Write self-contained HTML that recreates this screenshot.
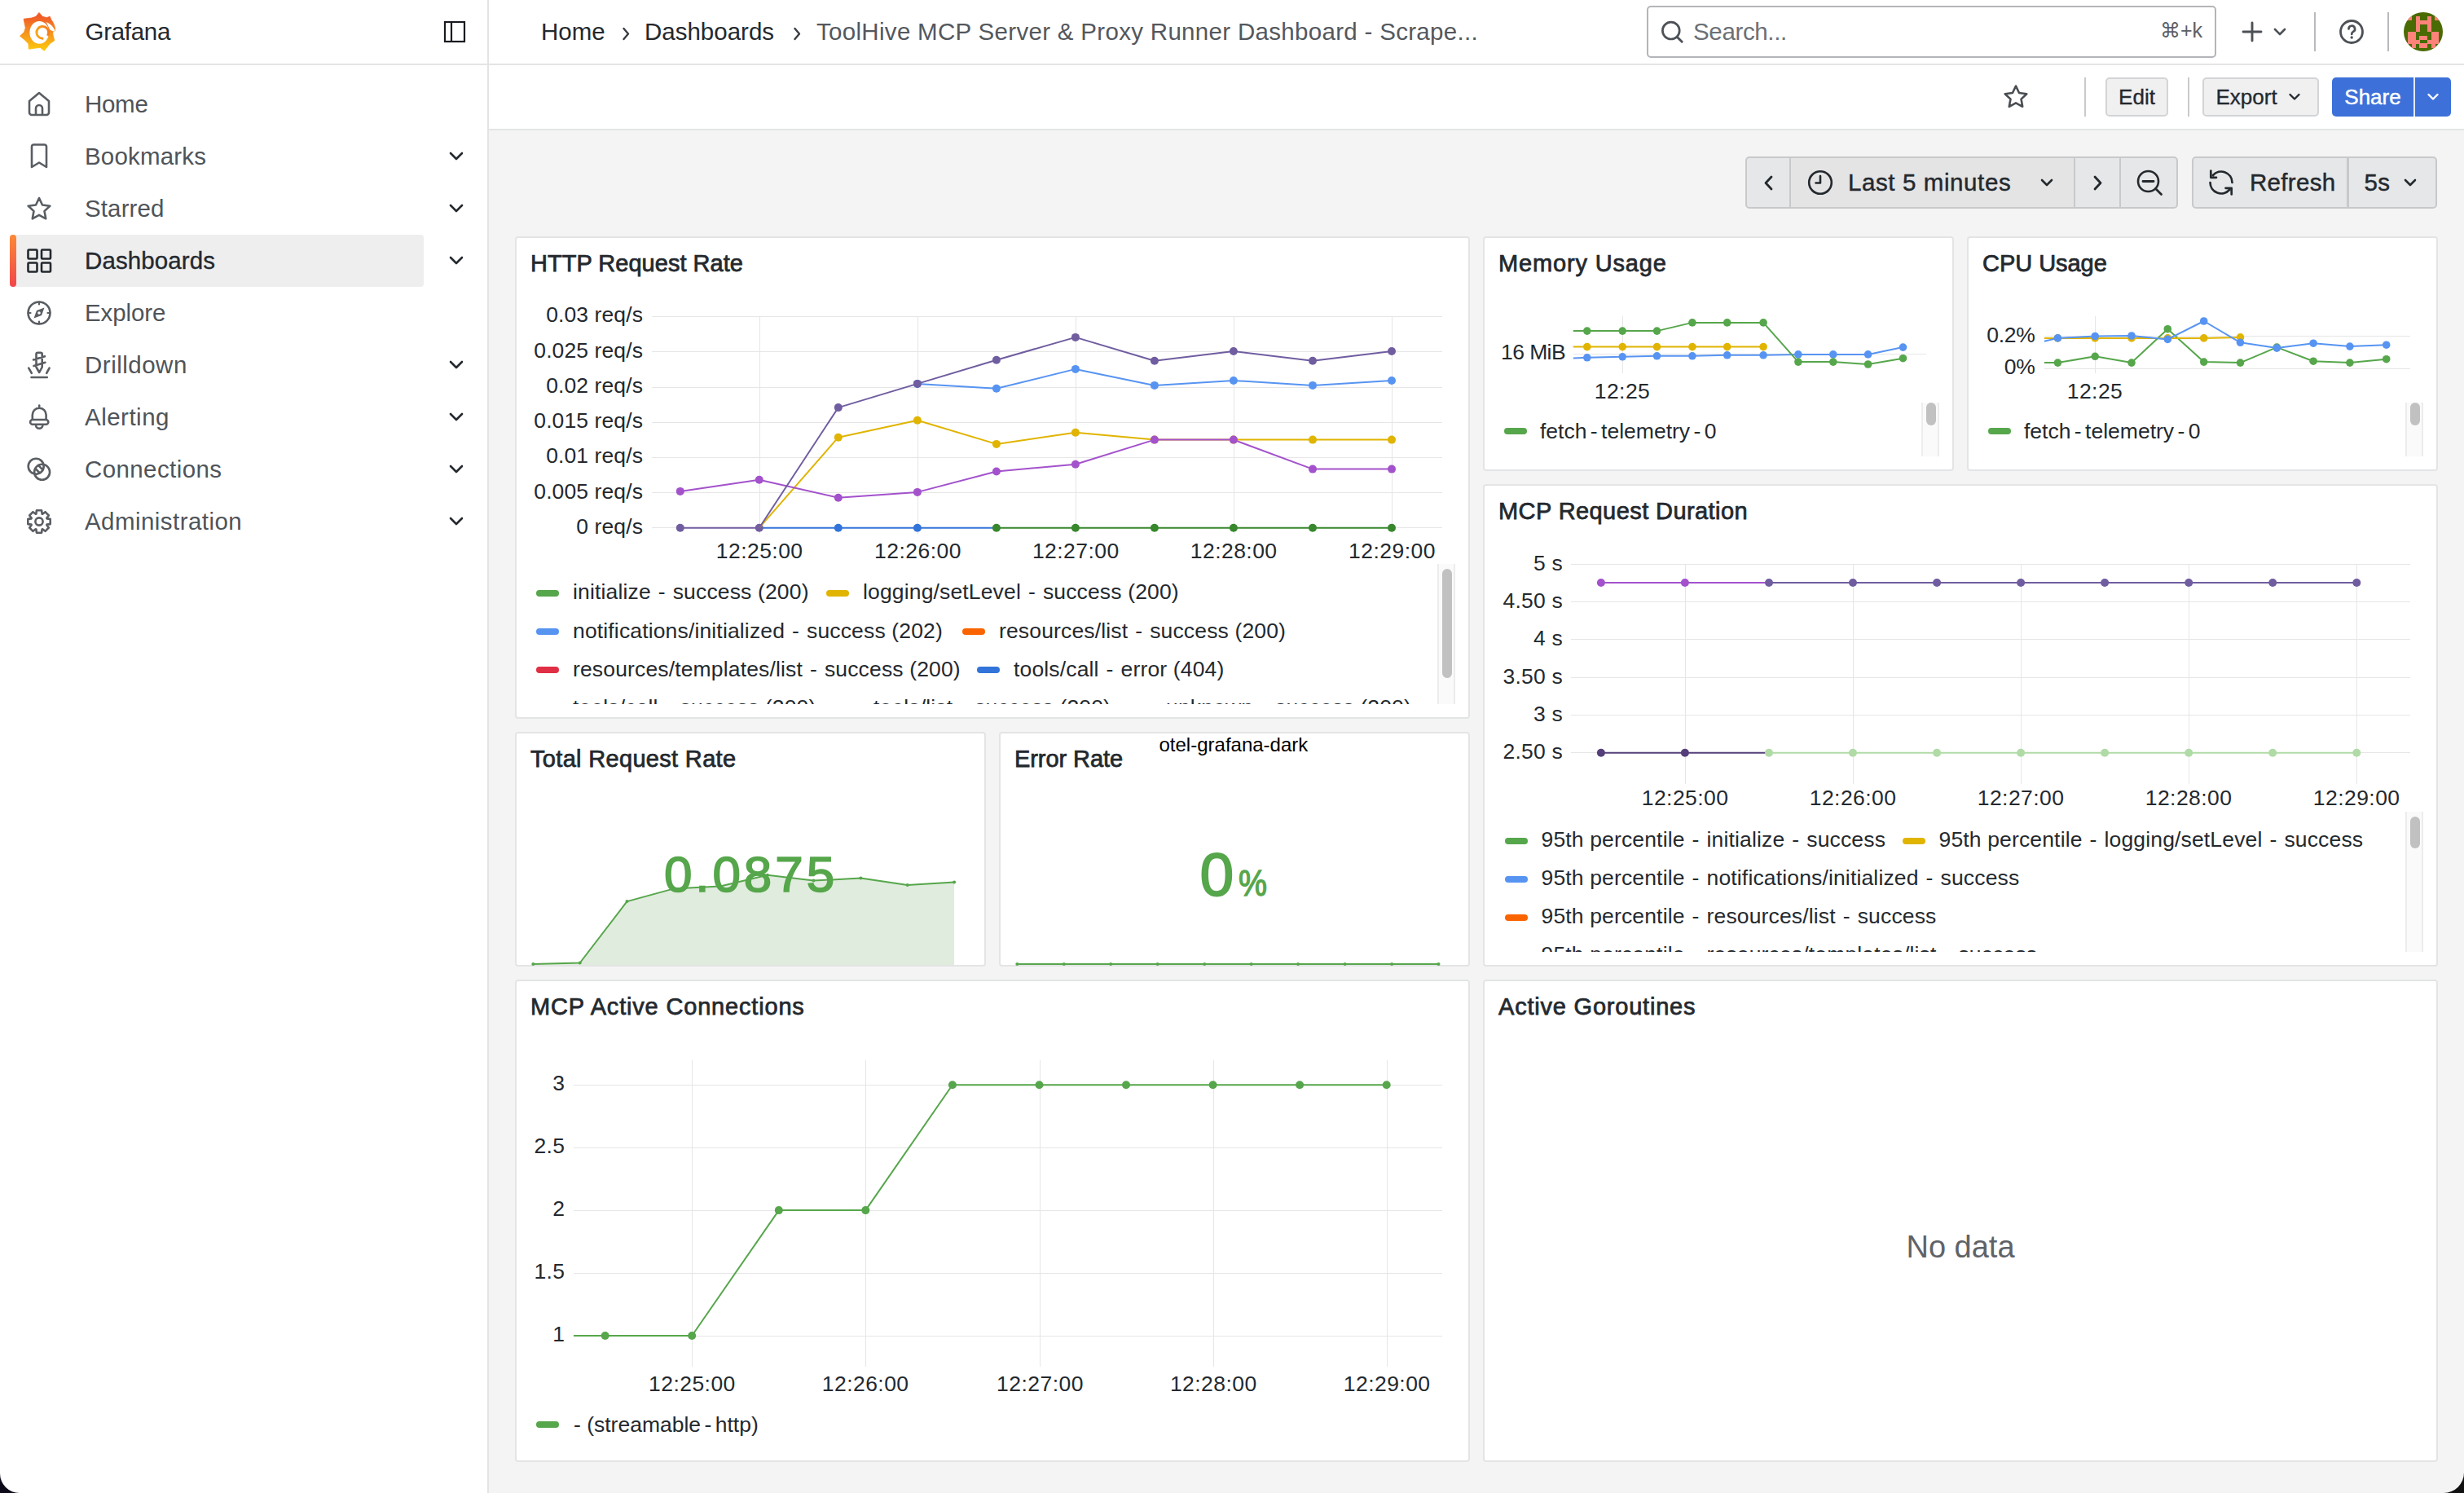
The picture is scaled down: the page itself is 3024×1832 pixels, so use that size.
<!DOCTYPE html>
<html><head><meta charset="utf-8"><title>ToolHive MCP Server &amp; Proxy Runner Dashboard - Grafana</title>
<style>
html,body{margin:0;padding:0;width:3024px;height:1832px;overflow:hidden;background:#fff;}
body{position:relative;font-family:"Liberation Sans", sans-serif;color:#24292e;}
.t{position:absolute;white-space:nowrap;line-height:1;}
</style></head><body>
<div class="" style="position:absolute;left:0px;top:0px;width:3024px;height:78px;background:#fff"></div><div class="" style="position:absolute;left:0px;top:78px;width:3024px;height:2px;background:#e3e4e5"></div><div class="" style="position:absolute;left:0px;top:80px;width:598px;height:1752px;background:#fff"></div><div class="" style="position:absolute;left:598px;top:0px;width:2px;height:1832px;background:#e3e4e5"></div><div class="" style="position:absolute;left:600px;top:80px;width:2424px;height:78px;background:#fff"></div><div class="" style="position:absolute;left:600px;top:158px;width:2424px;height:2px;background:#e3e4e5"></div><div class="" style="position:absolute;left:600px;top:160px;width:2424px;height:1672px;background:#f4f4f4"></div><div class="" style="position:absolute;left:2021px;top:7px;width:699px;height:64px;background:#fff;border:2px solid #b3b5b8;border-radius:5px;box-sizing:border-box"></div><div class="" style="position:absolute;left:2840px;top:15px;width:2px;height:48px;background:#b8babd"></div><div class="" style="position:absolute;left:2930px;top:15px;width:2px;height:48px;background:#b8babd"></div><div class="" style="position:absolute;left:12px;top:288px;width:508px;height:64px;background:#eeeeef;border-radius:4px"></div><div class="" style="position:absolute;left:12px;top:288px;width:8px;height:64px;background:linear-gradient(#fc8936,#f1464a);border-radius:4px"></div><div class="" style="position:absolute;left:2558px;top:95px;width:2px;height:48px;background:#c9cacc"></div><div class="" style="position:absolute;left:2584px;top:95px;width:77px;height:48px;background:#f0f0f1;border:2px solid #d3d4d6;border-radius:5px;box-sizing:border-box"></div><div class="" style="position:absolute;left:2685px;top:95px;width:2px;height:48px;background:#c9cacc"></div><div class="" style="position:absolute;left:2703px;top:95px;width:143px;height:48px;background:#f0f0f1;border:2px solid #d3d4d6;border-radius:5px;box-sizing:border-box"></div><div class="" style="position:absolute;left:2862px;top:95px;width:146px;height:48px;background:#3d71d9;border-radius:5px"></div><div class="" style="position:absolute;left:2961.5px;top:95px;width:2.5px;height:48px;background:#fff;opacity:0.85"></div><div class="" style="position:absolute;left:2142px;top:192px;width:531px;height:64px;background:#e6e7e8;border:2px solid #c8c9cb;border-radius:5px;box-sizing:border-box"></div><div class="" style="position:absolute;left:2198px;top:194px;width:347px;height:60px;background:#e4e4e5"></div><div class="" style="position:absolute;left:2196px;top:192px;width:2px;height:64px;background:#c8c9cb"></div><div class="" style="position:absolute;left:2545px;top:192px;width:2px;height:64px;background:#c8c9cb"></div><div class="" style="position:absolute;left:2601px;top:192px;width:2px;height:64px;background:#c8c9cb"></div><div class="" style="position:absolute;left:2690px;top:192px;width:301px;height:64px;background:#e6e7e8;border:2px solid #c8c9cb;border-radius:5px;box-sizing:border-box"></div><div class="" style="position:absolute;left:2880px;top:192px;width:3px;height:64px;background:#c8c9cb"></div><div class="" style="position:absolute;left:632px;top:290px;width:1172px;height:592px;background:#fff;border:2px solid #e3e4e5;border-radius:4px;box-sizing:border-box"></div><div class="" style="position:absolute;left:1820px;top:290px;width:578px;height:288px;background:#fff;border:2px solid #e3e4e5;border-radius:4px;box-sizing:border-box"></div><div class="" style="position:absolute;left:2414px;top:290px;width:578px;height:288px;background:#fff;border:2px solid #e3e4e5;border-radius:4px;box-sizing:border-box"></div><div class="" style="position:absolute;left:1820px;top:594px;width:1172px;height:592px;background:#fff;border:2px solid #e3e4e5;border-radius:4px;box-sizing:border-box"></div><div class="" style="position:absolute;left:632px;top:898px;width:578px;height:288px;background:#fff;border:2px solid #e3e4e5;border-radius:4px;box-sizing:border-box"></div><div class="" style="position:absolute;left:1226px;top:898px;width:578px;height:288px;background:#fff;border:2px solid #e3e4e5;border-radius:4px;box-sizing:border-box"></div><div class="" style="position:absolute;left:632px;top:1202px;width:1172px;height:592px;background:#fff;border:2px solid #e3e4e5;border-radius:4px;box-sizing:border-box"></div><div class="" style="position:absolute;left:1820px;top:1202px;width:1172px;height:592px;background:#fff;border:2px solid #e3e4e5;border-radius:4px;box-sizing:border-box"></div><div class="" style="position:absolute;left:1764px;top:692px;width:22px;height:172px;background:#fafafa;border-left:2px solid #ececec;border-right:2px solid #ececec;box-sizing:border-box"></div><div class="" style="position:absolute;left:1770px;top:698px;width:12px;height:134px;background:#c1c1c1;border-radius:6px"></div><div class="" style="position:absolute;left:1846px;top:525px;width:28px;height:8px;background:#56a64b;border-radius:4px"></div><div class="" style="position:absolute;left:2358px;top:494px;width:22px;height:66px;background:#fafafa;border-left:2px solid #ececec;border-right:2px solid #ececec;box-sizing:border-box"></div><div class="" style="position:absolute;left:2364px;top:494px;width:12px;height:28px;background:#c1c1c1;border-radius:6px"></div><div class="" style="position:absolute;left:2440px;top:525px;width:28px;height:8px;background:#56a64b;border-radius:4px"></div><div class="" style="position:absolute;left:2952px;top:494px;width:22px;height:66px;background:#fafafa;border-left:2px solid #ececec;border-right:2px solid #ececec;box-sizing:border-box"></div><div class="" style="position:absolute;left:2958px;top:494px;width:12px;height:28px;background:#c1c1c1;border-radius:6px"></div><div class="" style="position:absolute;left:2952px;top:996px;width:22px;height:172px;background:#fafafa;border-left:2px solid #ececec;border-right:2px solid #ececec;box-sizing:border-box"></div><div class="" style="position:absolute;left:2958px;top:1002px;width:12px;height:39px;background:#c1c1c1;border-radius:6px"></div><div class="" style="position:absolute;left:658px;top:1744px;width:28px;height:8px;background:#56a64b;border-radius:4px"></div>
<svg style="position:absolute;left:0;top:0" width="3024" height="1832" viewBox="0 0 3024 1832"><defs><linearGradient id="lg" gradientUnits="userSpaceOnUse" x1="0" y1="62" x2="0" y2="20"><stop offset="0" stop-color="#fcc90d"/><stop offset="0.55" stop-color="#f58f1e"/><stop offset="1" stop-color="#f05a28"/></linearGradient></defs><path d="M47.94,15.43 L52.16,20.25 L57.19,21.66 L61.21,20.25 L62.61,23.67 L65.63,28.49 L67.52,33.71 L67.68,37.73 L65.03,38.14 L64.82,42.15 L65.63,45.37 L66.83,49.79 L61.41,53.41 L54.37,62.25 L49.35,58.43 L43.72,59.04 L35.28,60.24 L34.88,53.81 L31.26,49.79 L24.43,44.16 L29.66,39.34 L31.26,34.12 L29.05,23.26 L34.88,22.46 L38.90,22.06 L44.13,20.25 Z" fill="url(#lg)" stroke="url(#lg)" stroke-width="0.8" stroke-linejoin="round"/><ellipse cx="48.23" cy="39.82" rx="11.86" ry="13.87" fill="#fff"/><path d="M56.59,26.88 L60.60,28.89 L63.82,31.70 L66.23,34.92 L67.44,37.81 L64.62,38.14 L61.21,36.53 L59.40,32.51 Z" fill="#fff"/><circle cx="52.24" cy="39.82" r="7.36" fill="none" stroke="url(#lg)" stroke-width="2.89" stroke-dasharray="39.74 100" transform="rotate(82 52.24 39.82)"/><rect x="546" y="27" width="24" height="24" fill="none" stroke="#181b1f" stroke-width="2.2"/><line x1="554" y1="27" x2="554" y2="51" stroke="#181b1f" stroke-width="2.2"/><path d="M765.5,35 l5.5,6.5 l-5.5,6.5" fill="none" stroke="#3a3e43" stroke-width="2.4" stroke-linecap="round" stroke-linejoin="round"/><path d="M975.5,35 l5.5,6.5 l-5.5,6.5" fill="none" stroke="#3a3e43" stroke-width="2.4" stroke-linecap="round" stroke-linejoin="round"/><circle cx="2050.8" cy="37.6" r="10.4" fill="none" stroke="#4d5156" stroke-width="2.7"/><line x1="2058.2" y1="45.2" x2="2064.2" y2="51.2" stroke="#4d5156" stroke-width="2.9" stroke-linecap="round"/><path d="M2764,28 v22 M2753,39 h22" stroke="#4d5156" stroke-width="2.9" stroke-linecap="round"/><path d="M2792,36 l6,6 l6,-6" fill="none" stroke="#4d5156" stroke-width="2.6" stroke-linecap="round" stroke-linejoin="round"/><circle cx="2886" cy="39" r="13.5" fill="none" stroke="#4d5156" stroke-width="2.8"/><path d="M2882.5,35.5 a3.8,3.8 0 1 1 5.5,3.4 c-1.3,0.8 -1.8,1.5 -1.8,3" fill="none" stroke="#4d5156" stroke-width="2.7" stroke-linecap="round"/><circle cx="2886.2" cy="46" r="1.7" fill="#4d5156"/><defs><clipPath id="avc"><circle cx="2974" cy="39" r="24"/></clipPath></defs><g clip-path="url(#avc)"><rect x="2950" y="15" width="48" height="48" fill="#4a6a04"/><g shape-rendering="crispEdges"><rect x="2955.00" y="20.10" width="5.07" height="5.07" fill="#fd8379"/><rect x="2964.54" y="20.10" width="5.07" height="5.07" fill="#fd8379"/><rect x="2978.85" y="20.10" width="5.07" height="5.07" fill="#fd8379"/><rect x="2988.39" y="20.10" width="5.07" height="5.07" fill="#fd8379"/><rect x="2964.54" y="24.87" width="5.07" height="5.07" fill="#fd8379"/><rect x="2969.31" y="24.87" width="5.07" height="5.07" fill="#fd8379"/><rect x="2974.08" y="24.87" width="5.07" height="5.07" fill="#fd8379"/><rect x="2978.85" y="24.87" width="5.07" height="5.07" fill="#fd8379"/><rect x="2964.54" y="29.64" width="5.07" height="5.07" fill="#fd8379"/><rect x="2978.85" y="29.64" width="5.07" height="5.07" fill="#fd8379"/><rect x="2964.54" y="34.41" width="5.07" height="5.07" fill="#fd8379"/><rect x="2978.85" y="34.41" width="5.07" height="5.07" fill="#fd8379"/><rect x="2955.00" y="39.18" width="5.07" height="5.07" fill="#fd8379"/><rect x="2959.77" y="39.18" width="5.07" height="5.07" fill="#fd8379"/><rect x="2983.62" y="39.18" width="5.07" height="5.07" fill="#fd8379"/><rect x="2988.39" y="39.18" width="5.07" height="5.07" fill="#fd8379"/><rect x="2955.00" y="43.95" width="5.07" height="5.07" fill="#fd8379"/><rect x="2959.77" y="43.95" width="5.07" height="5.07" fill="#fd8379"/><rect x="2969.31" y="43.95" width="5.07" height="5.07" fill="#fd8379"/><rect x="2974.08" y="43.95" width="5.07" height="5.07" fill="#fd8379"/><rect x="2983.62" y="43.95" width="5.07" height="5.07" fill="#fd8379"/><rect x="2988.39" y="43.95" width="5.07" height="5.07" fill="#fd8379"/><rect x="2955.00" y="48.72" width="5.07" height="5.07" fill="#fd8379"/><rect x="2959.77" y="48.72" width="5.07" height="5.07" fill="#fd8379"/><rect x="2964.54" y="48.72" width="5.07" height="5.07" fill="#fd8379"/><rect x="2978.85" y="48.72" width="5.07" height="5.07" fill="#fd8379"/><rect x="2983.62" y="48.72" width="5.07" height="5.07" fill="#fd8379"/><rect x="2988.39" y="48.72" width="5.07" height="5.07" fill="#fd8379"/><rect x="2959.77" y="53.49" width="5.07" height="5.07" fill="#fd8379"/><rect x="2969.31" y="53.49" width="5.07" height="5.07" fill="#fd8379"/><rect x="2974.08" y="53.49" width="5.07" height="5.07" fill="#fd8379"/><rect x="2983.62" y="53.49" width="5.07" height="5.07" fill="#fd8379"/></g></g><path d="M553,188 l7,7 l7,-7" fill="none" stroke="#24292e" stroke-width="2.6" stroke-linecap="round" stroke-linejoin="round"/><path d="M553,252 l7,7 l7,-7" fill="none" stroke="#24292e" stroke-width="2.6" stroke-linecap="round" stroke-linejoin="round"/><path d="M553,316 l7,7 l7,-7" fill="none" stroke="#24292e" stroke-width="2.6" stroke-linecap="round" stroke-linejoin="round"/><path d="M553,444 l7,7 l7,-7" fill="none" stroke="#24292e" stroke-width="2.6" stroke-linecap="round" stroke-linejoin="round"/><path d="M553,508 l7,7 l7,-7" fill="none" stroke="#24292e" stroke-width="2.6" stroke-linecap="round" stroke-linejoin="round"/><path d="M553,572 l7,7 l7,-7" fill="none" stroke="#24292e" stroke-width="2.6" stroke-linecap="round" stroke-linejoin="round"/><path d="M553,636 l7,7 l7,-7" fill="none" stroke="#24292e" stroke-width="2.6" stroke-linecap="round" stroke-linejoin="round"/><path d="M36,124 L48,114 L60,124 V138 a3,3 0 0 1 -3,3 H39 a3,3 0 0 1 -3,-3 Z M44,141 V133 a4,4 0 0 1 8,0 V141" fill="none" stroke="#5a5e63" stroke-width="2.6" stroke-linecap="round" stroke-linejoin="round"/><path d="M39,205 V180 a2.5,2.5 0 0 1 2.5,-2.5 H54.5 a2.5,2.5 0 0 1 2.5,2.5 V205 L48,199.5 Z" fill="none" stroke="#5a5e63" stroke-width="2.6" stroke-linecap="round" stroke-linejoin="round"/><path d="M48.0,243.0 L52.0,251.5 L61.3,252.7 L54.5,259.1 L56.2,268.3 L48.0,263.8 L39.8,268.3 L41.5,259.1 L34.7,252.7 L44.0,251.5 Z" fill="none" stroke="#5a5e63" stroke-width="2.6" stroke-linecap="round" stroke-linejoin="round"/><g fill="none" stroke="#24292e" stroke-width="2.6" stroke-linecap="miter" stroke-linejoin="round"><rect x="34.5" y="306.5" width="11" height="11" rx="1"/><rect x="51" y="306.5" width="11" height="11" rx="1"/><rect x="34.5" y="322.5" width="11" height="11" rx="1"/><rect x="51" y="322.5" width="11" height="11" rx="1"/></g><circle cx="48" cy="384" r="13.5" fill="none" stroke="#5a5e63" stroke-width="2.6" stroke-linecap="round" stroke-linejoin="round"/><path d="M54.5,377.5 L51,387 L41.5,390.5 L45,381 Z" fill="#5a5e63"/><circle cx="48" cy="384" r="1.8" fill="#fff"/><path d="M48,370.5 v3 M48,394.5 v3 M34.5,384 h3 M58.5,384 h3" stroke="#5a5e63" stroke-width="2.2" stroke-linecap="round"/><path d="M44.5,450.5 V434.5 a1.8,1.8 0 0 1 1.8,-1.8 h3.6 a1.8,1.8 0 0 1 1.8,1.8 V450.5 L48.2,457 Z M41,441.5 L55,437.3 M41.5,449 L55.4,444.8 M35.2,451.6 l3.6,6.2 M60.6,451.6 l-3.4,6.2 M38.5,463 h19.3" fill="none" stroke="#5a5e63" stroke-width="2.6" stroke-linecap="round" stroke-linejoin="round"/><path d="M39.8,514 V509 a8.4,8.4 0 0 1 16.8,0 V514 M40,515 h16.4 a2.9,2.9 0 0 1 0,5.8 H40 a2.9,2.9 0 0 1 0,-5.8 Z M44,521.5 a4.2,4.2 0 0 0 8.4,0 M48.2,497.5 v2.6" fill="none" stroke="#5a5e63" stroke-width="2.6" stroke-linecap="round" stroke-linejoin="round"/><circle cx="44.2" cy="572.2" r="9.5" fill="none" stroke="#5a5e63" stroke-width="2.6" stroke-linecap="round" stroke-linejoin="round"/><circle cx="51.6" cy="579.3" r="9.5" fill="none" stroke="#5a5e63" stroke-width="2.6" stroke-linecap="round" stroke-linejoin="round"/><path d="M47.2,571.2 L52.4,576.4 M43.4,575 L48.6,580.2" fill="none" stroke="#5a5e63" stroke-width="2.6" stroke-linecap="round" stroke-linejoin="round"/><path d="M61.7,636.9 L61.7,643.1 L57.5,643.6 L57.3,644.2 L59.8,647.5 L55.5,651.8 L52.2,649.3 L51.6,649.5 L51.1,653.7 L44.9,653.7 L44.4,649.5 L43.8,649.3 L40.5,651.8 L36.2,647.5 L38.7,644.2 L38.5,643.6 L34.3,643.1 L34.3,636.9 L38.5,636.4 L38.7,635.8 L36.2,632.5 L40.5,628.2 L43.8,630.7 L44.4,630.5 L44.9,626.3 L51.1,626.3 L51.6,630.5 L52.2,630.7 L55.5,628.2 L59.8,632.5 L57.3,635.8 L57.5,636.4 Z" fill="none" stroke="#5a5e63" stroke-width="2.6" stroke-linecap="round" stroke-linejoin="round"/><circle cx="48" cy="640" r="4.6" fill="none" stroke="#5a5e63" stroke-width="2.6" stroke-linecap="round" stroke-linejoin="round"/><path d="M2474.0,105.5 L2478.0,114.0 L2487.3,115.2 L2480.5,121.6 L2482.2,130.8 L2474.0,126.3 L2465.8,130.8 L2467.5,121.6 L2460.7,115.2 L2470.0,114.0 Z" fill="none" stroke="#4a4e53" stroke-width="2.6" stroke-linejoin="round"/><path d="M2810.5,116 l5.5,5.5 l5.5,-5.5" fill="none" stroke="#24292e" stroke-width="2.4" stroke-linecap="round" stroke-linejoin="round"/><path d="M2980.5,116 l5.5,5.5 l5.5,-5.5" fill="none" stroke="#fff" stroke-width="2.4" stroke-linecap="round" stroke-linejoin="round"/><path d="M2174,217 l-7,7.5 l7,7.5" fill="none" stroke="#24292e" stroke-width="2.8" stroke-linecap="round" stroke-linejoin="round"/><circle cx="2234" cy="224" r="13.8" fill="none" stroke="#24292e" stroke-width="2.6"/><path d="M2234,216 v8.5 h-5.5" fill="none" stroke="#24292e" stroke-width="2.6" stroke-linecap="round" stroke-linejoin="round"/><path d="M2506,221 l6,6 l6,-6" fill="none" stroke="#24292e" stroke-width="2.6" stroke-linecap="round" stroke-linejoin="round"/><path d="M2571,217 l7,7.5 l-7,7.5" fill="none" stroke="#24292e" stroke-width="2.8" stroke-linecap="round" stroke-linejoin="round"/><circle cx="2636.5" cy="222.5" r="12.5" fill="none" stroke="#24292e" stroke-width="2.6"/><path d="M2630,222.5 h13 M2645.5,231.5 l7,7" fill="none" stroke="#24292e" stroke-width="2.8" stroke-linecap="round"/><path d="M2716.0,215.0 A13.5,13.5 0 0 1 2739.5,224.0 M2712.5,224.0 A13.5,13.5 0 0 0 2736.0,233.0 M2713.3,209.5 V217.8 H2720 M2731.5,230.8 H2738.7 V238.5" fill="none" stroke="#24292e" stroke-width="2.7" stroke-linecap="round" stroke-linejoin="round"/><path d="M2952,221 l6,6 l6,-6" fill="none" stroke="#24292e" stroke-width="2.6" stroke-linecap="round" stroke-linejoin="round"/><line x1="800" y1="388.5" x2="1770" y2="388.5" stroke="#e6e6e7" stroke-width="1"/><line x1="800" y1="431.5" x2="1770" y2="431.5" stroke="#e6e6e7" stroke-width="1"/><line x1="800" y1="475.5" x2="1770" y2="475.5" stroke="#e6e6e7" stroke-width="1"/><line x1="800" y1="518.5" x2="1770" y2="518.5" stroke="#e6e6e7" stroke-width="1"/><line x1="800" y1="561.5" x2="1770" y2="561.5" stroke="#e6e6e7" stroke-width="1"/><line x1="800" y1="604.5" x2="1770" y2="604.5" stroke="#e6e6e7" stroke-width="1"/><line x1="800" y1="647.5" x2="1770" y2="647.5" stroke="#e6e6e7" stroke-width="1"/><line x1="932.5" y1="388" x2="932.5" y2="655" stroke="#e6e6e7" stroke-width="1"/><line x1="1126.5" y1="388" x2="1126.5" y2="655" stroke="#e6e6e7" stroke-width="1"/><line x1="1320.5" y1="388" x2="1320.5" y2="655" stroke="#e6e6e7" stroke-width="1"/><line x1="1514.5" y1="388" x2="1514.5" y2="655" stroke="#e6e6e7" stroke-width="1"/><line x1="1708.5" y1="388" x2="1708.5" y2="655" stroke="#e6e6e7" stroke-width="1"/><polyline points="834.8,647.7 931.8,647.7" fill="none" stroke="#705da0" stroke-width="2" stroke-linejoin="round" /><polyline points="931.8,647.7 1222.9,647.7" fill="none" stroke="#3274d9" stroke-width="2" stroke-linejoin="round" /><polyline points="1222.9,647.7 1708.0,647.7" fill="none" stroke="#37872d" stroke-width="2" stroke-linejoin="round" /><circle cx="834.8" cy="647.7" r="5" fill="#705da0"/><circle cx="931.8" cy="647.7" r="5" fill="#705da0"/><circle cx="1028.8" cy="647.7" r="5" fill="#3274d9"/><circle cx="1125.9" cy="647.7" r="5" fill="#3274d9"/><circle cx="1222.9" cy="647.7" r="5" fill="#37872d"/><circle cx="1319.9" cy="647.7" r="5" fill="#37872d"/><circle cx="1416.9" cy="647.7" r="5" fill="#37872d"/><circle cx="1513.9" cy="647.7" r="5" fill="#37872d"/><circle cx="1611.0" cy="647.7" r="5" fill="#37872d"/><circle cx="1708.0" cy="647.7" r="5" fill="#37872d"/><polyline points="1125.9,470.9 1222.9,476.8 1319.9,452.9 1416.9,472.9 1513.9,467.0 1611.0,472.9 1708.0,467.0" fill="none" stroke="#5794f2" stroke-width="2" stroke-linejoin="round" /><circle cx="1125.9" cy="470.9" r="5" fill="#5794f2"/><circle cx="1222.9" cy="476.8" r="5" fill="#5794f2"/><circle cx="1319.9" cy="452.9" r="5" fill="#5794f2"/><circle cx="1416.9" cy="472.9" r="5" fill="#5794f2"/><circle cx="1513.9" cy="467.0" r="5" fill="#5794f2"/><circle cx="1611.0" cy="472.9" r="5" fill="#5794f2"/><circle cx="1708.0" cy="467.0" r="5" fill="#5794f2"/><polyline points="931.8,647.7 1028.8,536.7 1125.9,515.7 1222.9,544.9 1319.9,530.8 1416.9,539.6 1513.9,539.6 1611.0,539.6 1708.0,539.6" fill="none" stroke="#e0b400" stroke-width="2" stroke-linejoin="round" /><circle cx="1028.8" cy="536.7" r="5" fill="#e0b400"/><circle cx="1125.9" cy="515.7" r="5" fill="#e0b400"/><circle cx="1222.9" cy="544.9" r="5" fill="#e0b400"/><circle cx="1319.9" cy="530.8" r="5" fill="#e0b400"/><circle cx="1416.9" cy="539.6" r="5" fill="#e0b400"/><circle cx="1513.9" cy="539.6" r="5" fill="#e0b400"/><circle cx="1611.0" cy="539.6" r="5" fill="#e0b400"/><circle cx="1708.0" cy="539.6" r="5" fill="#e0b400"/><polyline points="834.8,602.9 931.8,588.8 1028.8,610.7 1125.9,603.9 1222.9,578.5 1319.9,569.8 1416.9,539.6 1513.9,539.6 1611.0,575.6 1708.0,575.6" fill="none" stroke="#a352cc" stroke-width="2" stroke-linejoin="round" /><circle cx="834.8" cy="602.9" r="5" fill="#a352cc"/><circle cx="931.8" cy="588.8" r="5" fill="#a352cc"/><circle cx="1028.8" cy="610.7" r="5" fill="#a352cc"/><circle cx="1125.9" cy="603.9" r="5" fill="#a352cc"/><circle cx="1222.9" cy="578.5" r="5" fill="#a352cc"/><circle cx="1319.9" cy="569.8" r="5" fill="#a352cc"/><circle cx="1416.9" cy="539.6" r="5" fill="#a352cc"/><circle cx="1513.9" cy="539.6" r="5" fill="#a352cc"/><circle cx="1611.0" cy="575.6" r="5" fill="#a352cc"/><circle cx="1708.0" cy="575.6" r="5" fill="#a352cc"/><polyline points="931.8,647.7 1028.8,500.1 1125.9,470.9 1222.9,441.7 1319.9,413.9 1416.9,442.7 1513.9,431.0 1611.0,442.7 1708.0,431.0" fill="none" stroke="#705da0" stroke-width="2" stroke-linejoin="round" /><circle cx="1028.8" cy="500.1" r="5" fill="#705da0"/><circle cx="1125.9" cy="470.9" r="5" fill="#705da0"/><circle cx="1222.9" cy="441.7" r="5" fill="#705da0"/><circle cx="1319.9" cy="413.9" r="5" fill="#705da0"/><circle cx="1416.9" cy="442.7" r="5" fill="#705da0"/><circle cx="1513.9" cy="431.0" r="5" fill="#705da0"/><circle cx="1611.0" cy="442.7" r="5" fill="#705da0"/><circle cx="1708.0" cy="431.0" r="5" fill="#705da0"/><line x1="1931" y1="434.5" x2="2364" y2="434.5" stroke="#e6e6e7" stroke-width="1"/><line x1="1991.5" y1="388" x2="1991.5" y2="458" stroke="#e6e6e7" stroke-width="1"/><polyline points="1930.8,439.5 1947.8,438.8 1991.2,437.8 2033.5,436.8 2076.9,436.8 2119.7,435.8 2164.1,435.8 2206.9,434.9 2249.8,434.9 2292.6,434.9 2335.5,426.1" fill="none" stroke="#5794f2" stroke-width="2" stroke-linejoin="round" /><circle cx="1947.8" cy="438.8" r="4.8" fill="#5794f2"/><circle cx="1991.2" cy="437.8" r="4.8" fill="#5794f2"/><circle cx="2033.5" cy="436.8" r="4.8" fill="#5794f2"/><circle cx="2076.9" cy="436.8" r="4.8" fill="#5794f2"/><circle cx="2119.7" cy="435.8" r="4.8" fill="#5794f2"/><circle cx="2164.1" cy="435.8" r="4.8" fill="#5794f2"/><circle cx="2206.9" cy="434.9" r="4.8" fill="#5794f2"/><circle cx="2249.8" cy="434.9" r="4.8" fill="#5794f2"/><circle cx="2292.6" cy="434.9" r="4.8" fill="#5794f2"/><circle cx="2335.5" cy="426.1" r="4.8" fill="#5794f2"/><polyline points="1930.8,425.6 1947.8,425.6 1991.2,425.6 2033.5,425.6 2076.9,425.6 2119.7,425.6 2164.1,425.6" fill="none" stroke="#e0b400" stroke-width="2" stroke-linejoin="round" /><circle cx="1947.8" cy="425.6" r="4.8" fill="#e0b400"/><circle cx="1991.2" cy="425.6" r="4.8" fill="#e0b400"/><circle cx="2033.5" cy="425.6" r="4.8" fill="#e0b400"/><circle cx="2076.9" cy="425.6" r="4.8" fill="#e0b400"/><circle cx="2119.7" cy="425.6" r="4.8" fill="#e0b400"/><circle cx="2164.1" cy="425.6" r="4.8" fill="#e0b400"/><polyline points="1930.8,406.1 1947.8,406.1 1991.2,406.1 2033.5,406.1 2076.9,395.9 2119.7,395.9 2164.1,395.9 2206.9,444.1 2249.8,444.1 2292.6,447.0 2335.5,439.7" fill="none" stroke="#56a64b" stroke-width="2" stroke-linejoin="round" /><circle cx="1947.8" cy="406.1" r="4.8" fill="#56a64b"/><circle cx="1991.2" cy="406.1" r="4.8" fill="#56a64b"/><circle cx="2033.5" cy="406.1" r="4.8" fill="#56a64b"/><circle cx="2076.9" cy="395.9" r="4.8" fill="#56a64b"/><circle cx="2119.7" cy="395.9" r="4.8" fill="#56a64b"/><circle cx="2164.1" cy="395.9" r="4.8" fill="#56a64b"/><circle cx="2206.9" cy="444.1" r="4.8" fill="#56a64b"/><circle cx="2249.8" cy="444.1" r="4.8" fill="#56a64b"/><circle cx="2292.6" cy="447.0" r="4.8" fill="#56a64b"/><circle cx="2335.5" cy="439.7" r="4.8" fill="#56a64b"/><line x1="2509" y1="412.5" x2="2958" y2="412.5" stroke="#e6e6e7" stroke-width="1"/><line x1="2509" y1="452.5" x2="2958" y2="452.5" stroke="#e6e6e7" stroke-width="1"/><line x1="2571.5" y1="388" x2="2571.5" y2="458" stroke="#e6e6e7" stroke-width="1"/><polyline points="2508.9,445.1 2525.4,445.1 2571.2,437.3 2616.0,445.1 2660.3,403.7 2704.7,444.1 2749.5,445.1 2794.3,426.1 2839.1,443.2 2883.9,445.1 2928.7,440.7" fill="none" stroke="#56a64b" stroke-width="2" stroke-linejoin="round" /><circle cx="2525.4" cy="445.1" r="4.8" fill="#56a64b"/><circle cx="2571.2" cy="437.3" r="4.8" fill="#56a64b"/><circle cx="2616.0" cy="445.1" r="4.8" fill="#56a64b"/><circle cx="2660.3" cy="403.7" r="4.8" fill="#56a64b"/><circle cx="2704.7" cy="444.1" r="4.8" fill="#56a64b"/><circle cx="2749.5" cy="445.1" r="4.8" fill="#56a64b"/><circle cx="2794.3" cy="426.1" r="4.8" fill="#56a64b"/><circle cx="2839.1" cy="443.2" r="4.8" fill="#56a64b"/><circle cx="2883.9" cy="445.1" r="4.8" fill="#56a64b"/><circle cx="2928.7" cy="440.7" r="4.8" fill="#56a64b"/><polyline points="2508.9,414.9 2525.4,414.9 2571.2,414.9 2616.0,414.9 2660.3,414.9 2704.7,414.9 2749.5,413.9" fill="none" stroke="#e0b400" stroke-width="2" stroke-linejoin="round" /><circle cx="2525.4" cy="414.9" r="4.8" fill="#e0b400"/><circle cx="2571.2" cy="414.9" r="4.8" fill="#e0b400"/><circle cx="2616.0" cy="414.9" r="4.8" fill="#e0b400"/><circle cx="2660.3" cy="414.9" r="4.8" fill="#e0b400"/><circle cx="2704.7" cy="414.9" r="4.8" fill="#e0b400"/><circle cx="2749.5" cy="413.9" r="4.8" fill="#e0b400"/><polyline points="2508.9,418.8 2525.4,414.9 2571.2,412.5 2616.0,412.0 2660.3,416.4 2704.7,394.0 2749.5,420.3 2794.3,427.1 2839.1,421.2 2883.9,425.1 2928.7,423.2" fill="none" stroke="#5794f2" stroke-width="2" stroke-linejoin="round" /><circle cx="2525.4" cy="414.9" r="4.8" fill="#5794f2"/><circle cx="2571.2" cy="412.5" r="4.8" fill="#5794f2"/><circle cx="2616.0" cy="412.0" r="4.8" fill="#5794f2"/><circle cx="2660.3" cy="416.4" r="4.8" fill="#5794f2"/><circle cx="2704.7" cy="394.0" r="4.8" fill="#5794f2"/><circle cx="2749.5" cy="420.3" r="4.8" fill="#5794f2"/><circle cx="2794.3" cy="427.1" r="4.8" fill="#5794f2"/><circle cx="2839.1" cy="421.2" r="4.8" fill="#5794f2"/><circle cx="2883.9" cy="425.1" r="4.8" fill="#5794f2"/><circle cx="2928.7" cy="423.2" r="4.8" fill="#5794f2"/><line x1="1928" y1="692.5" x2="2958" y2="692.5" stroke="#e6e6e7" stroke-width="1"/><line x1="1928" y1="738.5" x2="2958" y2="738.5" stroke="#e6e6e7" stroke-width="1"/><line x1="1928" y1="784.5" x2="2958" y2="784.5" stroke="#e6e6e7" stroke-width="1"/><line x1="1928" y1="831.5" x2="2958" y2="831.5" stroke="#e6e6e7" stroke-width="1"/><line x1="1928" y1="877.5" x2="2958" y2="877.5" stroke="#e6e6e7" stroke-width="1"/><line x1="1928" y1="923.5" x2="2958" y2="923.5" stroke="#e6e6e7" stroke-width="1"/><line x1="2068.5" y1="692" x2="2068.5" y2="962" stroke="#e6e6e7" stroke-width="1"/><line x1="2274.5" y1="692" x2="2274.5" y2="962" stroke="#e6e6e7" stroke-width="1"/><line x1="2480.5" y1="692" x2="2480.5" y2="962" stroke="#e6e6e7" stroke-width="1"/><line x1="2686.5" y1="692" x2="2686.5" y2="962" stroke="#e6e6e7" stroke-width="1"/><line x1="2892.5" y1="692" x2="2892.5" y2="962" stroke="#e6e6e7" stroke-width="1"/><polyline points="1964.9,715.0 2171.0,715.0" fill="none" stroke="#a352cc" stroke-width="2" stroke-linejoin="round" /><polyline points="2171.0,715.0 2892.3,715.0" fill="none" stroke="#705da0" stroke-width="2" stroke-linejoin="round" /><circle cx="1964.9" cy="715.0" r="5" fill="#a352cc"/><circle cx="2067.9" cy="715.0" r="5" fill="#a352cc"/><circle cx="2171.0" cy="715.0" r="5" fill="#705da0"/><circle cx="2274.0" cy="715.0" r="5" fill="#705da0"/><circle cx="2377.1" cy="715.0" r="5" fill="#705da0"/><circle cx="2480.1" cy="715.0" r="5" fill="#705da0"/><circle cx="2583.1" cy="715.0" r="5" fill="#705da0"/><circle cx="2686.2" cy="715.0" r="5" fill="#705da0"/><circle cx="2789.2" cy="715.0" r="5" fill="#705da0"/><circle cx="2892.3" cy="715.0" r="5" fill="#705da0"/><polyline points="2171.0,923.7 2892.3,923.7" fill="none" stroke="#b0dba6" stroke-width="2" stroke-linejoin="round" /><polyline points="1964.9,923.7 2171.0,923.7" fill="none" stroke="#553f7a" stroke-width="2" stroke-linejoin="round" /><circle cx="1964.9" cy="923.7" r="5" fill="#553f7a"/><circle cx="2067.9" cy="923.7" r="5" fill="#553f7a"/><circle cx="2171.0" cy="923.7" r="5" fill="#b0dba6"/><circle cx="2274.0" cy="923.7" r="5" fill="#b0dba6"/><circle cx="2377.1" cy="923.7" r="5" fill="#b0dba6"/><circle cx="2480.1" cy="923.7" r="5" fill="#b0dba6"/><circle cx="2583.1" cy="923.7" r="5" fill="#b0dba6"/><circle cx="2686.2" cy="923.7" r="5" fill="#b0dba6"/><circle cx="2789.2" cy="923.7" r="5" fill="#b0dba6"/><circle cx="2892.3" cy="923.7" r="5" fill="#b0dba6"/><path d="M654.3,1183.1 L711.7,1181.5 L769.5,1106.1 L826.2,1090.6 L884.0,1087.5 L941.9,1073.7 L998.5,1080.6 L1056.4,1077.4 L1113.7,1085.9 L1171.1,1082.5 L1171.1,1184.0 L654.3,1184.0Z" fill="#e0ecdd"/><polyline points="654.3,1183.1 711.7,1181.5 769.5,1106.1 826.2,1090.6 884.0,1087.5 941.9,1073.7 998.5,1080.6 1056.4,1077.4 1113.7,1085.9 1171.1,1082.5" fill="none" stroke="#56a64b" stroke-width="2" stroke-linejoin="round" /><circle cx="654.3" cy="1183.1" r="2" fill="#56a64b"/><circle cx="711.7" cy="1181.5" r="2" fill="#56a64b"/><circle cx="769.5" cy="1106.1" r="2" fill="#56a64b"/><circle cx="826.2" cy="1090.6" r="2" fill="#56a64b"/><circle cx="884.0" cy="1087.5" r="2" fill="#56a64b"/><circle cx="941.9" cy="1073.7" r="2" fill="#56a64b"/><circle cx="998.5" cy="1080.6" r="2" fill="#56a64b"/><circle cx="1056.4" cy="1077.4" r="2" fill="#56a64b"/><circle cx="1113.7" cy="1085.9" r="2" fill="#56a64b"/><circle cx="1171.1" cy="1082.5" r="2" fill="#56a64b"/><line x1="1248.3" y1="1183" x2="1765.5" y2="1183" stroke="#56a64b" stroke-width="2"/><circle cx="1248.3" cy="1183" r="2" fill="#56a64b"/><circle cx="1305.8" cy="1183" r="2" fill="#56a64b"/><circle cx="1363.2" cy="1183" r="2" fill="#56a64b"/><circle cx="1420.7" cy="1183" r="2" fill="#56a64b"/><circle cx="1478.2" cy="1183" r="2" fill="#56a64b"/><circle cx="1535.7" cy="1183" r="2" fill="#56a64b"/><circle cx="1593.1" cy="1183" r="2" fill="#56a64b"/><circle cx="1650.6" cy="1183" r="2" fill="#56a64b"/><circle cx="1708.1" cy="1183" r="2" fill="#56a64b"/><circle cx="1765.5" cy="1183" r="2" fill="#56a64b"/><line x1="704" y1="1331.5" x2="1770" y2="1331.5" stroke="#e6e6e7" stroke-width="1"/><line x1="704" y1="1408.5" x2="1770" y2="1408.5" stroke="#e6e6e7" stroke-width="1"/><line x1="704" y1="1485.5" x2="1770" y2="1485.5" stroke="#e6e6e7" stroke-width="1"/><line x1="704" y1="1562.5" x2="1770" y2="1562.5" stroke="#e6e6e7" stroke-width="1"/><line x1="704" y1="1639.5" x2="1770" y2="1639.5" stroke="#e6e6e7" stroke-width="1"/><line x1="849.5" y1="1301" x2="849.5" y2="1677" stroke="#e6e6e7" stroke-width="1"/><line x1="1062.5" y1="1301" x2="1062.5" y2="1677" stroke="#e6e6e7" stroke-width="1"/><line x1="1276.5" y1="1301" x2="1276.5" y2="1677" stroke="#e6e6e7" stroke-width="1"/><line x1="1489.5" y1="1301" x2="1489.5" y2="1677" stroke="#e6e6e7" stroke-width="1"/><line x1="1702.5" y1="1301" x2="1702.5" y2="1677" stroke="#e6e6e7" stroke-width="1"/><polyline points="704.0,1639.0 742.7,1639.0 849.2,1639.0 955.8,1485.1 1062.3,1485.1 1168.9,1331.2 1275.5,1331.2 1382.0,1331.2 1488.6,1331.2 1595.1,1331.2 1701.7,1331.2" fill="none" stroke="#56a64b" stroke-width="2" stroke-linejoin="round" /><circle cx="742.7" cy="1639.0" r="5" fill="#56a64b"/><circle cx="849.2" cy="1639.0" r="5" fill="#56a64b"/><circle cx="955.8" cy="1485.1" r="5" fill="#56a64b"/><circle cx="1062.3" cy="1485.1" r="5" fill="#56a64b"/><circle cx="1168.9" cy="1331.2" r="5" fill="#56a64b"/><circle cx="1275.5" cy="1331.2" r="5" fill="#56a64b"/><circle cx="1382.0" cy="1331.2" r="5" fill="#56a64b"/><circle cx="1488.6" cy="1331.2" r="5" fill="#56a64b"/><circle cx="1595.1" cy="1331.2" r="5" fill="#56a64b"/><circle cx="1701.7" cy="1331.2" r="5" fill="#56a64b"/></svg>
<div class="t" style="left:104.5px;top:24.0px;font-size:29.5px;color:#24292e;letter-spacing:-0.3px;">Grafana</div><div class="t" style="left:664.0px;top:24.0px;font-size:29.5px;color:#24292e;">Home</div><div class="t" style="left:791.0px;top:24.0px;font-size:29.5px;color:#24292e;">Dashboards</div><div class="t" style="left:1002.0px;top:24.0px;font-size:29.5px;color:#54585d;letter-spacing:0.31px;">ToolHive MCP Server &amp; Proxy Runner Dashboard - Scrape...</div><div class="t" style="left:2078.0px;top:24.0px;font-size:29.5px;color:#6c7076;letter-spacing:-0.35px;">Search...</div><div class="t" style="left:2703.0px;top:24.8px;font-size:25px;color:#5c6066;transform:translateX(-100%);">⌘+k</div><div class="t" style="left:104.0px;top:112.5px;font-size:29.5px;color:#4f5459;letter-spacing:-0.3px;">Home</div><div class="t" style="left:104.0px;top:176.5px;font-size:29.5px;color:#4f5459;letter-spacing:0.18px;">Bookmarks</div><div class="t" style="left:104.0px;top:240.5px;font-size:29.5px;color:#4f5459;letter-spacing:0.12px;">Starred</div><div class="t" style="left:104.0px;top:304.5px;font-size:29.5px;color:#24292e;letter-spacing:0.11px;-webkit-text-stroke:0.35px #24292e;">Dashboards</div><div class="t" style="left:104.0px;top:368.5px;font-size:29.5px;color:#4f5459;letter-spacing:-0.1px;">Explore</div><div class="t" style="left:104.0px;top:432.5px;font-size:29.5px;color:#4f5459;letter-spacing:0.5px;">Drilldown</div><div class="t" style="left:104.0px;top:496.5px;font-size:29.5px;color:#4f5459;letter-spacing:0.49px;">Alerting</div><div class="t" style="left:104.0px;top:560.5px;font-size:29.5px;color:#4f5459;letter-spacing:0.4px;">Connections</div><div class="t" style="left:104.0px;top:624.5px;font-size:29.5px;color:#4f5459;letter-spacing:0.44px;">Administration</div><div class="t" style="left:2622.5px;top:105.5px;font-size:26px;color:#24292e;-webkit-text-stroke:0.35px #24292e;transform:translateX(-50%);">Edit</div><div class="t" style="left:2719.5px;top:105.5px;font-size:26px;color:#24292e;-webkit-text-stroke:0.35px #24292e;">Export</div><div class="t" style="left:2912.0px;top:105.5px;font-size:26px;color:#fff;-webkit-text-stroke:0.45px #fff;transform:translateX(-50%);">Share</div><div class="t" style="left:2268.0px;top:208.5px;font-size:29.5px;color:#24292e;letter-spacing:0.6px;-webkit-text-stroke:0.45px #24292e;">Last 5 minutes</div><div class="t" style="left:2761.0px;top:208.5px;font-size:29.5px;color:#24292e;letter-spacing:0.3px;-webkit-text-stroke:0.45px #24292e;">Refresh</div><div class="t" style="left:2901.5px;top:208.5px;font-size:29.5px;color:#24292e;letter-spacing:0.3px;-webkit-text-stroke:0.45px #24292e;">5s</div><div class="t" style="left:651.0px;top:308.5px;font-size:29px;color:#24292e;letter-spacing:0.02px;-webkit-text-stroke:0.75px #24292e;">HTTP Request Rate</div><div class="t" style="left:1839.0px;top:308.5px;font-size:29px;color:#24292e;letter-spacing:0.84px;-webkit-text-stroke:0.75px #24292e;">Memory Usage</div><div class="t" style="left:2433.0px;top:308.5px;font-size:29px;color:#24292e;letter-spacing:-0.04px;-webkit-text-stroke:0.75px #24292e;">CPU Usage</div><div class="t" style="left:1839.0px;top:612.5px;font-size:29px;color:#24292e;letter-spacing:0.42px;-webkit-text-stroke:0.75px #24292e;">MCP Request Duration</div><div class="t" style="left:651.0px;top:916.5px;font-size:29px;color:#24292e;letter-spacing:0.32px;-webkit-text-stroke:0.75px #24292e;">Total Request Rate</div><div class="t" style="left:1245.0px;top:916.5px;font-size:29px;color:#24292e;letter-spacing:-0.08px;-webkit-text-stroke:0.75px #24292e;">Error Rate</div><div class="t" style="left:651.0px;top:1220.5px;font-size:29px;color:#24292e;letter-spacing:0.82px;-webkit-text-stroke:0.75px #24292e;">MCP Active Connections</div><div class="t" style="left:1839.0px;top:1220.5px;font-size:29px;color:#24292e;letter-spacing:0.79px;-webkit-text-stroke:0.75px #24292e;">Active Goroutines</div><div class="t" style="left:789.0px;top:373.2px;font-size:26.5px;color:#24292e;letter-spacing:0.1px;transform:translateX(-100%);">0.03 req/s</div><div class="t" style="left:789.0px;top:416.6px;font-size:26.5px;color:#24292e;letter-spacing:0.1px;transform:translateX(-100%);">0.025 req/s</div><div class="t" style="left:789.0px;top:460.4px;font-size:26.5px;color:#24292e;letter-spacing:0.1px;transform:translateX(-100%);">0.02 req/s</div><div class="t" style="left:789.0px;top:503.3px;font-size:26.5px;color:#24292e;letter-spacing:0.1px;transform:translateX(-100%);">0.015 req/s</div><div class="t" style="left:789.0px;top:546.1px;font-size:26.5px;color:#24292e;letter-spacing:0.1px;transform:translateX(-100%);">0.01 req/s</div><div class="t" style="left:789.0px;top:589.9px;font-size:26.5px;color:#24292e;letter-spacing:0.1px;transform:translateX(-100%);">0.005 req/s</div><div class="t" style="left:789.0px;top:632.8px;font-size:26.5px;color:#24292e;letter-spacing:0.1px;transform:translateX(-100%);">0 req/s</div><div class="t" style="left:932.2px;top:663.4px;font-size:26.5px;color:#24292e;letter-spacing:0.45px;transform:translateX(-50%);">12:25:00</div><div class="t" style="left:1126.5px;top:663.4px;font-size:26.5px;color:#24292e;letter-spacing:0.45px;transform:translateX(-50%);">12:26:00</div><div class="t" style="left:1320.3px;top:663.4px;font-size:26.5px;color:#24292e;letter-spacing:0.45px;transform:translateX(-50%);">12:27:00</div><div class="t" style="left:1514.2px;top:663.4px;font-size:26.5px;color:#24292e;letter-spacing:0.45px;transform:translateX(-50%);">12:28:00</div><div class="t" style="left:1708.5px;top:663.4px;font-size:26.5px;color:#24292e;letter-spacing:0.45px;transform:translateX(-50%);">12:29:00</div><div style="position:absolute;left:658px;top:692px;width:1100px;height:171.6px;overflow:hidden"><div style="position:absolute;left:0px;top:31.7px;width:28px;height:8px;background:#56a64b;border-radius:4px"></div><div class="t" style="left:45.0px;top:21.4px;font-size:26.5px;color:#24292e;letter-spacing:0.15px;">initialize - success (200)</div><div style="position:absolute;left:356px;top:31.7px;width:28px;height:8px;background:#e0b400;border-radius:4px"></div><div class="t" style="left:401.0px;top:21.4px;font-size:26.5px;color:#24292e;letter-spacing:0.15px;">logging/setLevel - success (200)</div><div style="position:absolute;left:0px;top:78.99999999999996px;width:28px;height:8px;background:#5794f2;border-radius:4px"></div><div class="t" style="left:45.0px;top:68.7px;font-size:26.5px;color:#24292e;letter-spacing:0.15px;">notifications/initialized - success (202)</div><div style="position:absolute;left:523px;top:78.99999999999996px;width:28px;height:8px;background:#fa6400;border-radius:4px"></div><div class="t" style="left:568.0px;top:68.7px;font-size:26.5px;color:#24292e;letter-spacing:0.15px;">resources/list - success (200)</div><div style="position:absolute;left:0px;top:126.30000000000003px;width:28px;height:8px;background:#e02f44;border-radius:4px"></div><div class="t" style="left:45.0px;top:116.0px;font-size:26.5px;color:#24292e;letter-spacing:0.15px;">resources/templates/list - success (200)</div><div style="position:absolute;left:541px;top:126.30000000000003px;width:28px;height:8px;background:#3274d9;border-radius:4px"></div><div class="t" style="left:586.0px;top:116.0px;font-size:26.5px;color:#24292e;letter-spacing:0.15px;">tools/call - error (404)</div><div style="position:absolute;left:0px;top:173.59999999999997px;width:28px;height:8px;background:#a352cc;border-radius:4px"></div><div class="t" style="left:45.0px;top:163.3px;font-size:26.5px;color:#24292e;letter-spacing:0.15px;">tools/call - success (200)</div><div style="position:absolute;left:369px;top:173.59999999999997px;width:28px;height:8px;background:#705da0;border-radius:4px"></div><div class="t" style="left:414.0px;top:163.3px;font-size:26.5px;color:#24292e;letter-spacing:0.15px;">tools/list - success (200)</div><div style="position:absolute;left:728px;top:173.59999999999997px;width:28px;height:8px;background:#37872d;border-radius:4px"></div><div class="t" style="left:773.0px;top:163.3px;font-size:26.5px;color:#24292e;letter-spacing:0.15px;">unknown - success (200)</div></div><div class="t" style="left:1921.0px;top:419.1px;font-size:26.5px;color:#24292e;letter-spacing:-0.6px;transform:translateX(-100%);">16 MiB</div><div class="t" style="left:1991.0px;top:466.9px;font-size:26.5px;color:#24292e;letter-spacing:0.45px;transform:translateX(-50%);">12:25</div><div class="t" style="left:1890.0px;top:515.9px;font-size:26.5px;color:#24292e;">fetch - telemetry - 0</div><div class="t" style="left:2497.5px;top:397.6px;font-size:26.5px;color:#24292e;letter-spacing:-0.3px;transform:translateX(-100%);">0.2%</div><div class="t" style="left:2497.5px;top:437.1px;font-size:26.5px;color:#24292e;letter-spacing:-0.3px;transform:translateX(-100%);">0%</div><div class="t" style="left:2571.0px;top:466.9px;font-size:26.5px;color:#24292e;letter-spacing:0.45px;transform:translateX(-50%);">12:25</div><div class="t" style="left:2484.0px;top:515.9px;font-size:26.5px;color:#24292e;">fetch - telemetry - 0</div><div class="t" style="left:1918.0px;top:677.7px;font-size:26.5px;color:#24292e;letter-spacing:0.2px;transform:translateX(-100%);">5 s</div><div class="t" style="left:1918.0px;top:724.0px;font-size:26.5px;color:#24292e;letter-spacing:0.2px;transform:translateX(-100%);">4.50 s</div><div class="t" style="left:1918.0px;top:770.3px;font-size:26.5px;color:#24292e;letter-spacing:0.2px;transform:translateX(-100%);">4 s</div><div class="t" style="left:1918.0px;top:816.6px;font-size:26.5px;color:#24292e;letter-spacing:0.2px;transform:translateX(-100%);">3.50 s</div><div class="t" style="left:1918.0px;top:863.0px;font-size:26.5px;color:#24292e;letter-spacing:0.2px;transform:translateX(-100%);">3 s</div><div class="t" style="left:1918.0px;top:909.3px;font-size:26.5px;color:#24292e;letter-spacing:0.2px;transform:translateX(-100%);">2.50 s</div><div class="t" style="left:2068.1px;top:966.4px;font-size:26.5px;color:#24292e;letter-spacing:0.45px;transform:translateX(-50%);">12:25:00</div><div class="t" style="left:2274.1px;top:966.4px;font-size:26.5px;color:#24292e;letter-spacing:0.45px;transform:translateX(-50%);">12:26:00</div><div class="t" style="left:2480.1px;top:966.4px;font-size:26.5px;color:#24292e;letter-spacing:0.45px;transform:translateX(-50%);">12:27:00</div><div class="t" style="left:2686.1px;top:966.4px;font-size:26.5px;color:#24292e;letter-spacing:0.45px;transform:translateX(-50%);">12:28:00</div><div class="t" style="left:2892.2px;top:966.4px;font-size:26.5px;color:#24292e;letter-spacing:0.45px;transform:translateX(-50%);">12:29:00</div><div style="position:absolute;left:1846.5px;top:996px;width:1100px;height:172px;overflow:hidden"><div style="position:absolute;left:0.0px;top:31.7px;width:28px;height:8px;background:#56a64b;border-radius:4px"></div><div class="t" style="left:45.0px;top:21.4px;font-size:26.5px;color:#24292e;letter-spacing:0.15px;">95th percentile - initialize - success</div><div style="position:absolute;left:488.0px;top:31.7px;width:28px;height:8px;background:#e0b400;border-radius:4px"></div><div class="t" style="left:533.0px;top:21.4px;font-size:26.5px;color:#24292e;letter-spacing:0.15px;">95th percentile - logging/setLevel - success</div><div style="position:absolute;left:0.0px;top:78.7px;width:28px;height:8px;background:#5794f2;border-radius:4px"></div><div class="t" style="left:45.0px;top:68.4px;font-size:26.5px;color:#24292e;letter-spacing:0.15px;">95th percentile - notifications/initialized - success</div><div style="position:absolute;left:0.0px;top:125.7px;width:28px;height:8px;background:#fa6400;border-radius:4px"></div><div class="t" style="left:45.0px;top:115.4px;font-size:26.5px;color:#24292e;letter-spacing:0.15px;">95th percentile - resources/list - success</div><div style="position:absolute;left:0.0px;top:172.7px;width:28px;height:8px;background:#e02f44;border-radius:4px"></div><div class="t" style="left:45.0px;top:162.4px;font-size:26.5px;color:#24292e;letter-spacing:0.15px;">95th percentile - resources/templates/list - success</div></div><div class="t" style="left:921.5px;top:1041.8px;font-size:62px;color:#56a64b;letter-spacing:3.9px;-webkit-text-stroke:1.6px #56a64b;transform:translateX(-50%);">0.0875</div><div class="t" style="left:1472.5px;top:1035.8px;font-size:75px;color:#56a64b;-webkit-text-stroke:1.8px #56a64b;">0</div><div class="t" style="left:1520.0px;top:1061.2px;font-size:45px;color:#56a64b;-webkit-text-stroke:1.3px #56a64b;transform:scaleX(0.875);transform-origin:0 0;">%</div><div class="t" style="left:1422.5px;top:902.4px;font-size:24px;color:#000;">otel-grafana-dark</div><div class="t" style="left:693.5px;top:1316.3px;font-size:26.5px;color:#24292e;letter-spacing:0.4px;transform:translateX(-100%);">3</div><div class="t" style="left:693.5px;top:1393.3px;font-size:26.5px;color:#24292e;letter-spacing:0.4px;transform:translateX(-100%);">2.5</div><div class="t" style="left:693.5px;top:1470.2px;font-size:26.5px;color:#24292e;letter-spacing:0.4px;transform:translateX(-100%);">2</div><div class="t" style="left:693.5px;top:1547.2px;font-size:26.5px;color:#24292e;letter-spacing:0.4px;transform:translateX(-100%);">1.5</div><div class="t" style="left:693.5px;top:1624.1px;font-size:26.5px;color:#24292e;letter-spacing:0.4px;transform:translateX(-100%);">1</div><div class="t" style="left:849.4px;top:1685.4px;font-size:26.5px;color:#24292e;letter-spacing:0.45px;transform:translateX(-50%);">12:25:00</div><div class="t" style="left:1062.2px;top:1685.4px;font-size:26.5px;color:#24292e;letter-spacing:0.45px;transform:translateX(-50%);">12:26:00</div><div class="t" style="left:1276.5px;top:1685.4px;font-size:26.5px;color:#24292e;letter-spacing:0.45px;transform:translateX(-50%);">12:27:00</div><div class="t" style="left:1489.3px;top:1685.4px;font-size:26.5px;color:#24292e;letter-spacing:0.45px;transform:translateX(-50%);">12:28:00</div><div class="t" style="left:1702.2px;top:1685.4px;font-size:26.5px;color:#24292e;letter-spacing:0.45px;transform:translateX(-50%);">12:29:00</div><div class="t" style="left:704.0px;top:1734.9px;font-size:26.5px;color:#24292e;">- (streamable - http)</div><div class="t" style="left:2406.0px;top:1510.8px;font-size:38px;color:#5f6368;transform:translateX(-50%);">No data</div>
<svg style="position:absolute;left:0;top:0" width="3024" height="1832"><path d="M0,1808 A24,24 0 0 0 24,1832 L0,1832 Z" fill="#0d0b1a"/><path d="M3024,1807 A25,25 0 0 1 2999,1832 L3024,1832 Z" fill="#111111"/></svg>
</body></html>
